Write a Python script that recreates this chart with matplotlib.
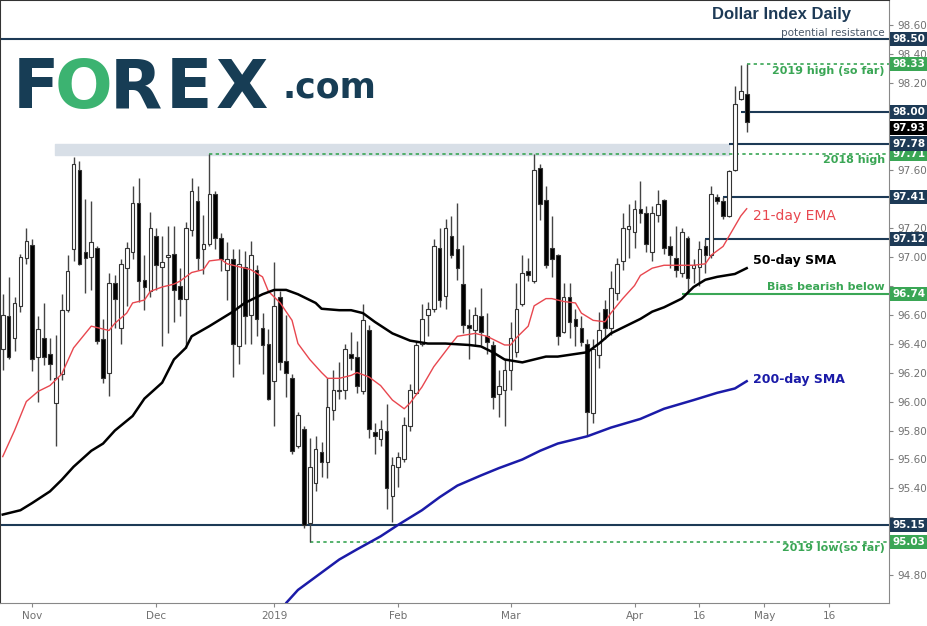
import matplotlib
matplotlib.use('Agg')
import matplotlib.pyplot as plt
import matplotlib.transforms as mtransforms

# daily candles, Nov 2018 - Apr 2019
opens = [96.36, 96.59, 96.44, 96.66, 96.99, 97.08, 96.31, 96.44, 96.33, 95.99,
         96.19, 96.63, 97.05, 97.60, 97.03, 97.00, 97.06, 96.43, 96.20, 96.82,
         96.51, 96.92, 97.03, 97.37, 96.84, 96.76, 97.14, 96.93, 97.00, 97.02,
         96.80, 96.71, 97.18, 97.38, 97.05, 97.09, 97.43, 97.13, 96.91, 96.98,
         96.38, 96.93, 96.60, 96.91, 96.51, 96.40, 96.14, 96.72, 96.28, 96.16,
         95.69, 95.81, 95.16, 95.44, 95.65, 95.58, 95.94, 96.07, 96.08, 96.33,
         96.31, 96.07, 96.49, 95.79, 95.74, 95.80, 95.35, 95.55, 95.60, 95.83,
         96.06, 96.40, 96.60, 96.64, 97.06, 96.73, 97.14, 97.05, 96.81, 96.53,
         96.49, 96.59, 96.45, 96.39, 96.05, 96.08, 96.22, 96.34, 96.67, 96.90,
         96.83, 97.61, 97.39, 97.06, 97.01, 96.48, 96.72, 96.57, 96.51, 96.40,
         95.92, 96.32, 96.64, 96.51, 96.75, 96.97, 97.19, 97.17, 97.33, 97.30,
         97.03, 97.29, 97.39, 97.07, 96.99, 96.89, 97.13, 96.92, 96.93, 97.07,
         97.01, 97.41, 97.38, 97.28, 97.60, 98.09, 98.12]
highs = [96.74, 96.86, 96.72, 97.02, 97.20, 97.12, 96.59, 96.68, 96.44, 96.46,
         96.74, 97.01, 97.69, 97.66, 97.40, 97.38, 97.07, 96.57, 96.89, 96.87,
         96.98, 97.10, 97.49, 97.54, 97.01, 97.31, 97.20, 97.14, 97.21, 97.21,
         96.92, 97.24, 97.54, 97.49, 97.29, 97.71, 97.45, 97.16, 97.10, 97.05,
         97.05, 97.04, 97.11, 96.94, 96.61, 96.50, 96.96, 96.76, 96.60, 96.19,
         95.93, 95.83, 95.75, 95.76, 95.72, 96.16, 96.22, 96.27, 96.40, 96.48,
         96.42, 96.67, 96.53, 95.85, 95.87, 95.98, 95.62, 95.65, 95.89, 96.12,
         96.42, 96.67, 96.69, 97.12, 97.20, 97.26, 97.28, 97.37, 97.08, 96.64,
         96.65, 96.78, 96.61, 96.42, 96.22, 96.29, 96.55, 96.82, 97.01, 96.99,
         97.71, 97.64, 97.49, 97.28, 97.02, 96.82, 96.82, 96.64, 96.59, 96.43,
         96.43, 96.62, 96.70, 96.90, 96.99, 97.30, 97.36, 97.39, 97.52, 97.35,
         97.35, 97.46, 97.40, 97.14, 97.21, 97.20, 97.14, 96.98, 97.11, 97.12,
         97.49, 97.43, 97.41, 97.60, 98.18, 98.32, 98.33]
lows = [96.22, 96.29, 96.35, 96.62, 96.95, 96.21, 96.00, 96.25, 96.15, 95.69,
        96.15, 96.62, 96.97, 96.94, 96.75, 96.77, 96.40, 96.13, 96.04, 96.51,
        96.40, 96.66, 96.98, 96.69, 96.63, 96.72, 96.77, 96.38, 96.47, 96.55,
        96.59, 96.37, 97.14, 96.91, 96.88, 97.07, 97.05, 96.90, 96.70, 96.17,
        96.26, 96.40, 96.40, 96.45, 96.19, 96.01, 95.83, 96.22, 96.03, 95.64,
        95.68, 95.13, 95.03, 95.38, 95.48, 95.47, 95.87, 96.02, 96.02, 96.22,
        96.06, 96.05, 95.75, 95.64, 95.69, 95.26, 95.17, 95.41, 95.58, 95.80,
        96.05, 96.38, 96.45, 96.62, 96.65, 96.64, 96.99, 96.84, 96.47, 96.29,
        96.38, 96.39, 96.33, 95.95, 95.89, 95.83, 96.08, 96.31, 96.66, 96.83,
        96.82, 97.25, 96.92, 96.86, 96.39, 96.47, 96.44, 96.38, 96.38, 95.76,
        95.85, 96.23, 96.43, 96.46, 96.70, 96.91, 96.99, 97.06, 97.23, 97.03,
        96.97, 97.24, 97.02, 96.92, 96.86, 96.86, 96.75, 96.82, 96.80, 96.89,
        96.99, 97.36, 97.26, 97.27, 97.59, 98.08, 97.86]
closes = [96.60, 96.31, 96.68, 97.00, 97.11, 96.29, 96.50, 96.31, 96.26, 96.16,
          96.63, 96.90, 97.64, 96.95, 96.99, 97.10, 96.42, 96.16, 96.82, 96.71,
          96.95, 97.06, 97.37, 96.83, 96.79, 97.20, 96.94, 96.96, 97.01, 96.77,
          96.71, 97.20, 97.45, 96.99, 97.09, 97.43, 97.13, 96.98, 96.98, 96.40,
          96.95, 96.59, 97.01, 96.57, 96.39, 96.02, 96.66, 96.27, 96.20, 95.66,
          95.91, 95.15, 95.55, 95.67, 95.58, 95.96, 96.08, 96.08, 96.36, 96.30,
          96.11, 96.56, 95.81, 95.76, 95.81, 95.40, 95.56, 95.62, 95.84, 96.08,
          96.39, 96.57, 96.64, 97.07, 96.70, 97.20, 97.01, 96.92, 96.53, 96.51,
          96.60, 96.48, 96.41, 96.03, 96.11, 96.22, 96.44, 96.64, 96.89, 96.87,
          97.60, 97.36, 96.94, 96.98, 96.45, 96.72, 96.55, 96.52, 96.41, 95.93,
          96.36, 96.49, 96.51, 96.78, 96.95, 97.20, 97.21, 97.33, 97.30, 97.09,
          97.30, 97.36, 97.06, 97.01, 96.91, 97.17, 96.85, 96.94, 97.05, 97.01,
          97.43, 97.38, 97.28, 97.59, 98.05, 98.14, 97.93]

# moving averages read at sample bars
ema_x = [0, 2, 4, 6, 8, 10, 12, 15, 16, 18, 19, 21, 22, 24, 25, 27, 29, 30, 32, 34,
         35, 37, 38, 40, 42, 44, 45, 46, 47, 49, 50, 52, 54, 55, 57, 59, 60, 62, 64, 66,
         68, 69, 71, 73, 76, 77, 80, 82, 85, 86, 87, 89, 90, 92, 93, 95, 97, 98, 100, 102,
         103, 105, 107, 108, 110, 112, 113, 115, 117, 119, 120, 122, 123, 125, 126]
ema_y = [95.62, 95.80, 96.00, 96.07, 96.11, 96.19, 96.37, 96.52, 96.51, 96.49,
         96.54, 96.61, 96.68, 96.70, 96.76, 96.79, 96.81, 96.83, 96.89, 96.91,
         96.97, 96.98, 96.95, 96.93, 96.91, 96.86, 96.76, 96.72, 96.68, 96.56,
         96.40, 96.29, 96.20, 96.16, 96.16, 96.18, 96.20, 96.17, 96.11, 96.01,
         95.95, 95.99, 96.10, 96.24, 96.40, 96.45, 96.47, 96.45, 96.39, 96.39,
         96.44, 96.52, 96.66, 96.71, 96.71, 96.69, 96.68, 96.61, 96.56, 96.55,
         96.61, 96.71, 96.80, 96.87, 96.92, 96.94, 96.94, 96.94, 96.94, 96.95,
         97.01, 97.07, 97.14, 97.28, 97.33]
sma50_x = [0, 3, 5, 8, 10, 12, 15, 17, 19, 22, 24, 27, 29, 31, 32, 35, 37, 39, 41, 44,
           46, 48, 50, 53, 54, 57, 59, 61, 63, 66, 69, 72, 75, 79, 81, 83, 85, 88, 90, 92,
           94, 99, 101, 103, 106, 108, 110, 112, 115, 117, 119, 121, 124, 126]
sma50_y = [95.22, 95.25, 95.30, 95.38, 95.46, 95.55, 95.66, 95.71, 95.80, 95.90,
           96.02, 96.13, 96.29, 96.37, 96.45, 96.52, 96.57, 96.62, 96.68, 96.74,
           96.77, 96.77, 96.74, 96.68, 96.64, 96.63, 96.63, 96.61, 96.55, 96.47,
           96.42, 96.40, 96.40, 96.39, 96.38, 96.34, 96.29, 96.27, 96.29, 96.31,
           96.31, 96.34, 96.40, 96.47, 96.53, 96.57, 96.62, 96.65, 96.71, 96.79,
           96.84, 96.86, 96.88, 96.92]
sma200_x = [47, 48, 50, 54, 57, 60, 64, 67, 71, 74, 77, 81, 84, 88, 91, 94, 99, 103, 108,
            112, 117, 121, 124, 126]
sma200_y = [94.52, 94.61, 94.70, 94.82, 94.91, 94.98, 95.07, 95.15, 95.25, 95.34,
            95.42, 95.49, 95.54, 95.60, 95.66, 95.71, 95.76, 95.82, 95.88, 95.95,
            96.01, 96.06, 96.09, 96.14]

# date ticks (bar index of first bar of the period)
tick_pos = [5, 26, 46, 67, 86, 107, 118, 129, 140]
tick_lab = ['Nov', 'Dec', '2019', 'Feb', 'Mar', 'Apr', '16', 'May', '16']
price_ticks = [94.8, 95.0, 95.2, 95.4, 95.6, 95.8, 96.0, 96.2, 96.4, 96.6, 96.8,
               97.0, 97.2, 97.4, 97.6, 97.8, 98.0, 98.2, 98.4, 98.6]
# scale labels hidden behind the price tags
hidden_ticks = [95.0, 95.2, 96.8, 97.4, 97.8, 98.0]

NAVY = '#1d3a56'
GREEN = '#3aa655'
W, H = 927, 626

fig = plt.figure(figsize=(W / 100, H / 100), dpi=100)
ax = fig.add_axes([0, 23 / H, 889 / W, 603 / H])
ax.set_xlim(-0.46, 150.1)
ax.set_ylim(94.61, 98.77)

def ftext(x, y, s, **kw):
    fig.text(x / W, 1 - y / H, s, **kw)

# resistance band around the 2018 high
ax.fill_between([8.9, 123], 97.70, 97.78, color='#d8dfe7', zorder=1)

# horizontal levels
ax.axhline(98.50, color=NAVY, lw=1.5, zorder=2)
ax.axhline(95.15, color=NAVY, lw=1.5, zorder=2)
ax.hlines([98.00, 97.78, 97.41, 97.12], [125, 123, 122, 119], 150.1, color=NAVY, lw=1.5, zorder=2)
ax.hlines([98.33, 97.71, 95.03], [126, 35, 52], 150.1, color=GREEN, lw=1.2,
          linestyles=(0, (2, 2)), zorder=2)
ax.hlines(96.74, 115, 150.1, color=GREEN, lw=1.5, zorder=2)

# candles
idx = list(range(len(opens)))
ax.vlines(idx, lows, highs, color='#444444', lw=1, zorder=3)
bottoms = [min(o, c) for o, c in zip(opens, closes)]
heights = [max(abs(c - o), 0.012) for o, c in zip(opens, closes)]
faces = ['white' if c >= o else 'black' for o, c in zip(opens, closes)]
ax.bar(idx, heights, bottom=bottoms, width=0.62, color=faces, edgecolor='#333333',
       linewidth=0.8, zorder=4)

# moving averages
ax.plot(ema_x, ema_y, color='#e8474f', lw=1, zorder=5)
ax.plot(sma50_x, sma50_y, color='black', lw=1.8, zorder=5)
ax.plot(sma200_x, sma200_y, color='#1b1ba8', lw=1.8, zorder=5)

# axes styling
ax.yaxis.tick_right()
ax.set_yticks(price_ticks)
ax.set_yticklabels(['' if round(v, 2) in hidden_ticks else f'{v:.2f}' for v in price_ticks])
ax.set_xticks(tick_pos)
ax.set_xticklabels(tick_lab)
ax.tick_params(axis='both', labelsize=7.5, labelcolor='#707070', color='#888888',
               length=3, direction='out', pad=3)
for side in ['right', 'bottom']:
    ax.spines[side].set_color('#888888')
for side in ['left', 'top']:
    ax.spines[side].set_color('#333333')
    ax.spines[side].set_linewidth(1.5)

# price tags on the right scale
trans = mtransforms.blended_transform_factory(ax.transAxes, ax.transData)
tags = [(98.50, 98.50, NAVY), (98.33, 98.33, GREEN), (98.00, 98.00, NAVY),
        (97.93, 97.885, 'black'), (97.71, 97.71, GREEN), (97.78, 97.78, NAVY),
        (97.41, 97.41, NAVY), (97.12, 97.12, NAVY), (96.74, 96.74, GREEN),
        (95.15, 95.15, NAVY), (95.03, 95.03, GREEN)]
for val, ypos, col in tags:
    ax.text(1.004, ypos, f'{val:.2f}', transform=trans, ha='left', va='center',
            color='white', fontsize=7.5, fontweight='bold', clip_on=False, zorder=10,
            bbox=dict(boxstyle='square,pad=0.2', fc=col, ec='none'))

# annotations
ftext(712, 15, 'Dollar Index Daily', ha='left', va='center', color=NAVY,
      fontsize=12, fontweight='bold', family='Liberation Sans')
ftext(885, 33, 'potential resistance', ha='right', va='center', color='#4a5868', fontsize=7.5)
ftext(885, 71, '2019 high (so far)', ha='right', va='center', color=GREEN,
      fontsize=8, fontweight='bold')
ftext(885, 160, '2018 high', ha='right', va='center', color=GREEN, fontsize=8, fontweight='bold')
ftext(885, 287, 'Bias bearish below', ha='right', va='center', color=GREEN,
      fontsize=8, fontweight='bold')
ftext(885, 548, '2019 low(so far)', ha='right', va='center', color=GREEN,
      fontsize=8, fontweight='bold')
ftext(753, 216, '21-day EMA', ha='left', va='center', color='#e8474f', fontsize=10)
ftext(753, 260, '50-day SMA', ha='left', va='center', color='black', fontsize=9, fontweight='bold')
ftext(753, 379, '200-day SMA', ha='left', va='center', color='#1b1ba8', fontsize=9,
      fontweight='bold')

# logo
logo_font = dict(family='DejaVu Sans', fontweight='bold', fontsize=49, va='baseline', ha='left')
ftext(13, 108, 'F', color='#173d55', **logo_font)
ftext(55, 108, 'O', color='#3cb371', **logo_font)
ftext(110, 108, 'R', color='#173d55', **logo_font)
ftext(166, 108, 'E', color='#173d55', **logo_font)
ftext(216, 108, 'X', color='#173d55', **logo_font)
ftext(282, 97, '.com', color='#173d55', family='DejaVu Sans', fontweight='bold', fontsize=25,
      va='baseline', ha='left')

fig.savefig('out.png', dpi=100)
